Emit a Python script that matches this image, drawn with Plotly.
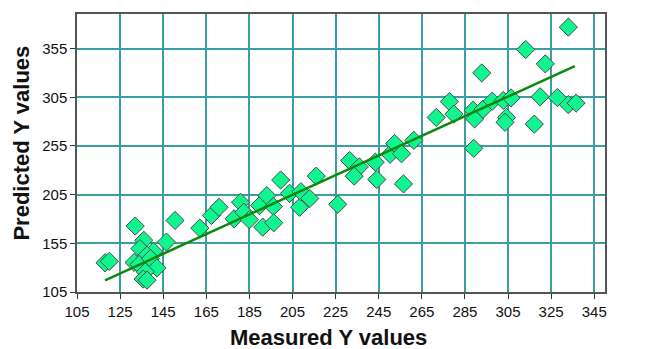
import plotly.graph_objects as go

measured = [118, 120, 132, 150.5, 136, 146.5, 134.2, 140.5, 137.5, 131.5, 133.8, 139.1,
            142.1, 136.7, 135.7, 137.5, 162, 167.4, 170.9, 177.9, 180.9, 182.4, 185,
            189.7, 193.1, 196.1, 191.2, 196.3, 199.5, 203.6, 208.3, 208.9, 213, 226,
            216, 231.5, 236, 233.6, 243.4, 244.1, 250.3, 252.4, 255.6, 261.3, 256.5,
            271.7, 277.8, 279.9, 288.8, 289.5, 293.4, 297.7, 302.8, 306.4, 304.3,
            303.6, 289.1, 292.8, 333, 313.2, 322.3, 319.9, 327.9, 333, 336.6, 317.2]
predicted = [135, 136.5, 172.7, 178.5, 158, 156.3, 149.6, 146.8, 142.8, 135.3, 133.3, 139.4,
             129.8, 125.7, 118.3, 117.2, 170.6, 183.6, 192, 180.2, 197.1, 186.9, 179.2,
             193.8, 204, 192.8, 171.6, 176.1, 220, 206.3, 192, 208, 201, 195,
             224, 240, 233.5, 224, 238.3, 220.5, 246.5, 257.5, 247, 260.7, 216,
             284.3, 300.5, 287.7, 291.7, 282.7, 292.7, 301, 301.7, 304.3, 284.3,
             279.3, 252.5, 330, 377, 354, 339.3, 305.5, 304.7, 297.4, 299, 277.4]

fit_x = [118, 336]
fit_y = [117, 337]

x_ticks = list(range(105, 346, 20))
y_ticks = list(range(105, 356, 50))

FONT = "Liberation Sans, Arial, sans-serif"

fig = go.Figure()
fig.add_trace(go.Scatter(
    x=measured, y=predicted, mode="markers",
    marker=dict(symbol="diamond", size=14, color="#0ff58f",
                line=dict(color="#4a4a4a", width=1)),
    showlegend=False))
fig.add_trace(go.Scatter(
    x=fit_x, y=fit_y, mode="lines",
    line=dict(color="#0a8a0a", width=2.5), showlegend=False))

axis_common = dict(
    showgrid=True, gridcolor="#3c9ea2", gridwidth=1.5,
    showline=True, linecolor="#555555", linewidth=1.5, mirror=True,
    ticks="outside", ticklen=5, tickcolor="#333333", tickwidth=1,
    zeroline=False,
    tickfont=dict(family=FONT, size=15, color="#111111"),
)

fig.update_layout(
    width=646, height=349,
    margin=dict(l=77, r=41, t=12, b=57),
    paper_bgcolor="white", plot_bgcolor="white",
    xaxis=dict(range=[105, 350], tickvals=x_ticks, **axis_common),
    yaxis=dict(range=[105, 390.5], tickvals=y_ticks, **axis_common),
    annotations=[
        dict(text="<b>Measured Y values</b>", xref="paper", yref="paper",
             x=0.477, y=-0.163, xanchor="center", yanchor="middle", showarrow=False,
             font=dict(family=FONT, size=22, color="#111111")),
        dict(text="<b>Predicted Y values</b>", xref="paper", yref="paper",
             x=-0.105, y=0.536, xanchor="center", yanchor="middle", showarrow=False,
             textangle=-90, font=dict(family=FONT, size=22, color="#111111")),
    ],
)

fig.write_html("out.html")
